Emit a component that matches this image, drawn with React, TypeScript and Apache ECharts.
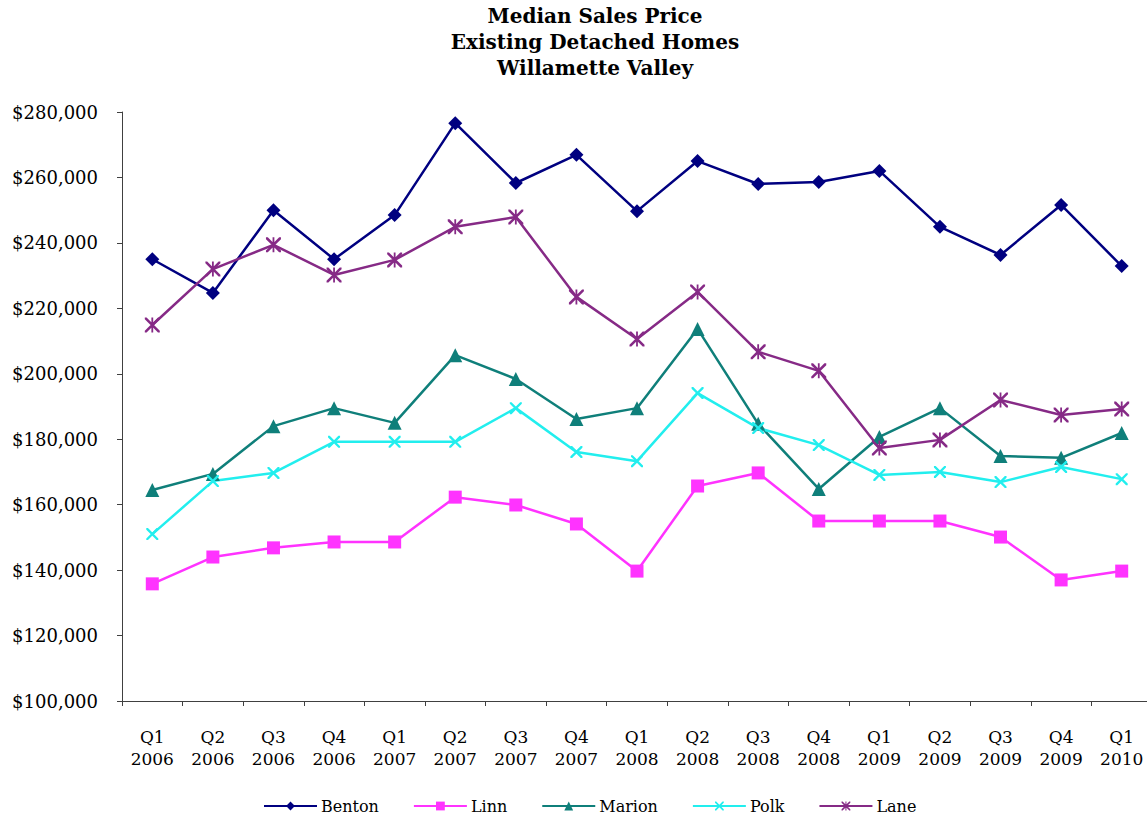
import React, { useEffect, useRef } from "react";
import * as echarts from "echarts";

const categories = [
  "Q1\n2006", "Q2\n2006", "Q3\n2006", "Q4\n2006",
  "Q1\n2007", "Q2\n2007", "Q3\n2007", "Q4\n2007",
  "Q1\n2008", "Q2\n2008", "Q3\n2008", "Q4\n2008",
  "Q1\n2009", "Q2\n2009", "Q3\n2009", "Q4\n2009",
  "Q1\n2010",
];

const benton = [235000, 224700, 250000, 235000, 248500, 276600, 258300, 266900, 249700, 265000, 258000, 258600, 262000, 244900, 236300, 251600, 232900];
const linn = [135800, 144000, 146800, 148600, 148600, 162300, 159900, 154100, 139700, 165700, 169700, 155000, 155000, 155000, 150100, 137000, 139700];
const marion = [164500, 169400, 184000, 189500, 185000, 205700, 198400, 186200, 189500, 213700, 184700, 164800, 180700, 189500, 174900, 174300, 181900];
const polk = [151000, 167200, 169700, 179200, 179200, 179200, 189500, 176100, 173300, 194100, 183400, 178200, 169100, 170000, 166900, 171500, 167800];
const lane = [214900, 232000, 239400, 230200, 234800, 244900, 247900, 223500, 210600, 225000, 206700, 200900, 177300, 179800, 192000, 187400, 189200];

const titleLines = ["Median Sales Price", "Existing Detached Homes", "Willamette Valley"];

const crossPath = "path://M0,0 L1.4,0 L10,8.6 L10,10 L8.6,10 L0,1.4 Z M10,0 L10,1.4 L1.4,10 L0,10 L0,8.6 L8.6,0 Z";
const starPath = "path://M0,0 L1.2,0 L10,8.8 L10,10 L8.8,10 L0,1.2 Z M10,0 L10,1.2 L1.2,10 L0,10 L0,8.8 L8.8,0 Z M4.4,0 L5.6,0 L5.6,10 L4.4,10 Z";

const SERIF = "DejaVu Serif";

export default function App() {
  const ref = useRef<HTMLDivElement>(null);
  useEffect(() => {
    if (!ref.current) return;
    const chart = echarts.init(ref.current, undefined, { renderer: "svg" });
    const mk = (name: string, data: number[], color: string, symbol: string, size: number) => ({
      name,
      type: "line",
      data,
      symbol,
      symbolSize: size,
      lineStyle: { color, width: 2.5 },
      itemStyle: { color },
      emphasis: { disabled: true },
    });
    chart.setOption({
      animation: false,
      backgroundColor: "#ffffff",
      graphic: titleLines.map((t, i) => ({
        type: "text",
        x: 595,
        y: 16 + i * 26,
        style: {
          text: t,
          fill: "#000",
          font: `bold 20px "${SERIF}"`,
          textAlign: "center",
          textVerticalAlign: "middle",
        },
      })),
      grid: { left: 122, top: 112, height: 589, width: 1030, containLabel: false },
      xAxis: {
        type: "category",
        data: categories,
        boundaryGap: true,
        axisLine: { lineStyle: { color: "#404040", width: 1 } },
        axisTick: { show: true, length: 5, inside: false, lineStyle: { color: "#404040" } },
        axisLabel: {
          interval: 0,
          margin: 25,
          color: "#000",
          fontFamily: SERIF,
          fontSize: 17,
          lineHeight: 22,
        },
        splitLine: { show: false },
      },
      yAxis: {
        type: "value",
        min: 100000,
        max: 280000,
        interval: 20000,
        axisLine: { show: true, lineStyle: { color: "#404040", width: 1 } },
        axisTick: { show: true, length: 5, lineStyle: { color: "#404040" } },
        axisLabel: {
          margin: 24,
          color: "#000",
          fontFamily: SERIF,
          fontSize: 18,
          formatter: (v: number) => "$" + v.toLocaleString("en-US"),
        },
        splitLine: { show: false },
      },
      legend: {
        left: 263,
        top: 798,
        padding: 0,
        itemWidth: 53,
        itemHeight: 11,
        itemGap: 34,
        textStyle: { color: "#000", fontFamily: SERIF, fontSize: 16, padding: [0, 0, 0, -1] },
        data: ["Benton", "Linn", "Marion", "Polk", "Lane"],
      },
      series: [
        mk("Benton", benton, "#000080", "diamond", 14),
        mk("Linn", linn, "#FF33FF", "rect", 13),
        mk("Marion", marion, "#0F7F7A", "triangle", 14),
        mk("Polk", polk, "#22EEEE", crossPath, 12),
        mk("Lane", lane, "#862A86", starPath, 15),
      ],
    });
    return () => chart.dispose();
  }, []);
  return (
    <div
      style={{ position: "absolute", left: 0, top: 0, width: 1147, height: 822, overflow: "hidden" }}
    >
      <div ref={ref} style={{ width: 1160, height: 822 }} />
    </div>
  );
}
